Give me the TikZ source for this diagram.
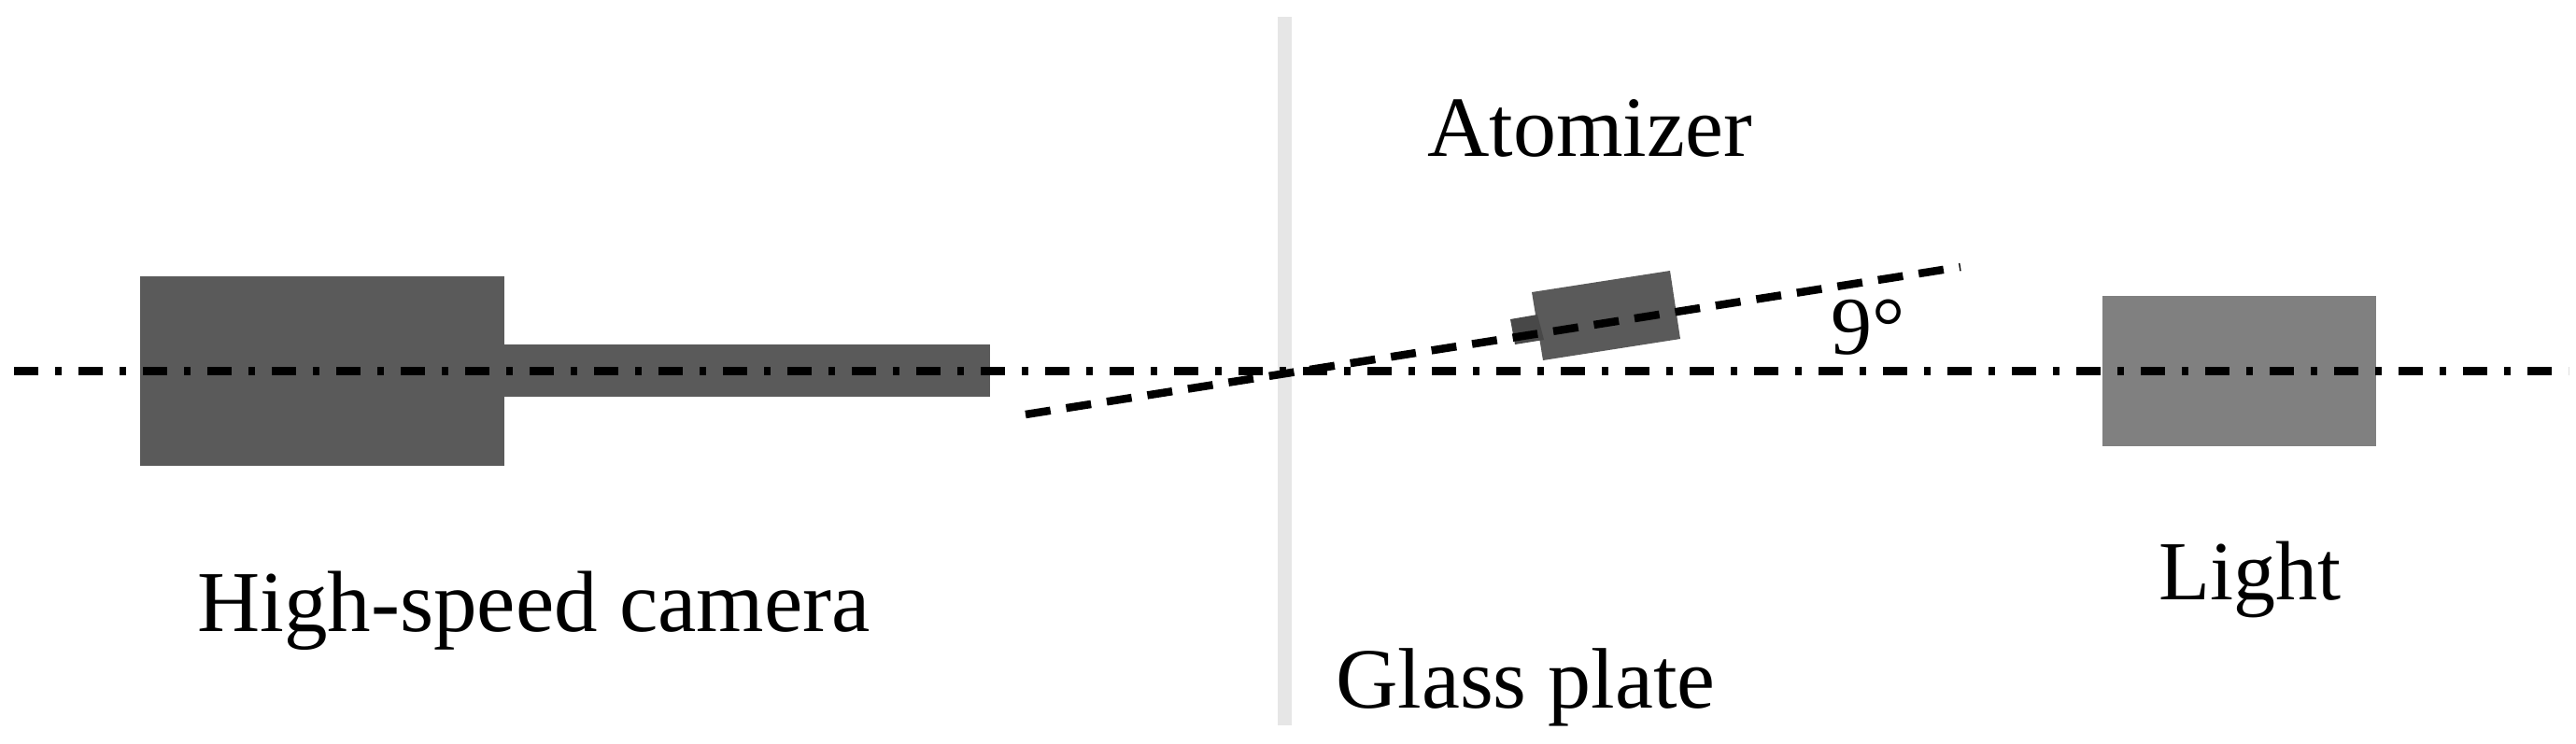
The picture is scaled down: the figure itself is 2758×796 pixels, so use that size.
\documentclass[tikz,border=0pt]{standalone}
\usepackage{fontspec}
\setmainfont{Liberation Serif}
\tikzset{
  label text/.style={inner sep=0pt,anchor=base west,font=\fontsize{92}{100}\selectfont},
  camera part/.style={fill=camgray,draw=none},
  axis line/.style={line width=8.5pt,black,dash pattern=on 26pt off 18pt on 7pt off 18pt},
  tilt line/.style={line width=8.5pt,black,dash pattern=on 27pt off 17pt}
}
\definecolor{camgray}{HTML}{5A5A5A}
\definecolor{nozgray}{HTML}{484848}
\definecolor{lightgray2}{HTML}{808080}
\definecolor{plategray}{HTML}{E6E6E6}
\begin{document}
\begin{tikzpicture}[x=1pt,y=-1pt]
\useasboundingbox (0,0) rectangle (2758,796);
\fill[camera part] (150,296) rectangle (540,499);
\fill[camera part] (540,369) rectangle (1060,425);
\fill[lightgray2] (2251,317) rectangle (2544,478);
\fill[plategray] (1368,18) rectangle (1383,777);
\fill[camera part] (1640,313) -- (1788,290) -- (1799,363) -- (1652,386) -- cycle;
\fill[nozgray] (1617,342) -- (1646,337) -- (1653,364) -- (1622,369) -- cycle;
\coordinate (axisA) at (15,397.5);
\coordinate (axisB) at (2750,397.5);
\coordinate (tiltA) at (1098,444);
\coordinate (tiltB) at (2099,286);
\draw[axis line] (axisA) -- (axisB);
\draw[tilt line] (tiltA) -- (tiltB);
\node[label text,font=\fontsize{93}{100}\selectfont] (cam) at (211,676) {High-speed camera};
\node[label text] (ato) at (1528,167) {Atomizer};
\node[label text,font=\fontsize{90}{100}\selectfont] (lig) at (2311,642) {Light};
\node[label text] (gla) at (1430,758) {Glass plate};
\node[label text,font=\fontsize{88}{100}\selectfont] (ang) at (1960,379) {9°};
\end{tikzpicture}
\end{document}
